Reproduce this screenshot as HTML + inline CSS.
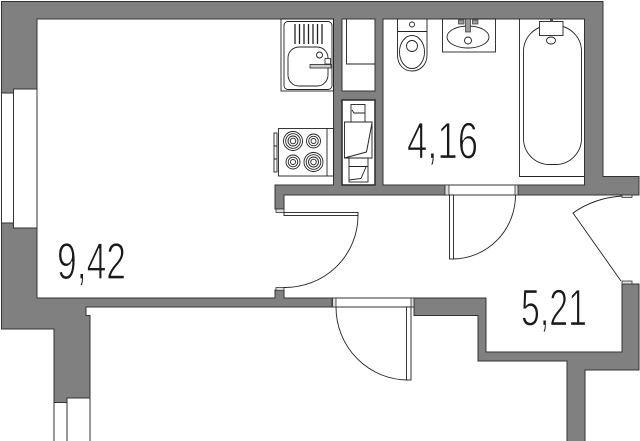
<!DOCTYPE html>
<html>
<head>
<meta charset="utf-8">
<style>
html,body{margin:0;padding:0;background:#fff;}
svg{display:block;}
text{font-family:"Liberation Sans",sans-serif;font-size:52px;fill:#1a1a1a;stroke:#fff;stroke-width:1.2px;}
</style>
</head>
<body>
<svg width="640" height="441" viewBox="0 0 640 441" xmlns="http://www.w3.org/2000/svg">
<rect width="640" height="441" fill="#fff"/>
<!-- walls -->
<path d="M1.5 1.5H603V176.5H639V195H284V209H275V185H333.5V19H37V298H275V290H284V298H486V352H622V284H639V370H585V445H567V361H478V315.5H414V307H86V315.5H90V398H67V402.5H54V329H1.5Z" fill="#808080" stroke="#333" stroke-width="1"/>
<!-- rooms in wall -->
<g fill="#fff" stroke="#333" stroke-width="1">
<rect x="383" y="19" width="201.5" height="166"/>
<rect x="342" y="19" width="33" height="72"/>
<rect x="342" y="100" width="33" height="85" stroke-width="1.6"/>
<!-- windows -->
<rect x="1.5" y="93" width="12" height="130"/>
<rect x="13.5" y="89" width="23.5" height="139"/>
<rect x="54" y="402.5" width="13" height="45"/>
<rect x="67" y="398" width="23" height="50"/>
<!-- door openings -->
<rect x="445" y="185" width="73" height="10"/>
<rect x="332" y="298" width="82" height="9"/>
</g>
<!-- jambs -->
<g fill="#ddd" stroke="#333" stroke-width=".8">
<rect x="445" y="185" width="4" height="10"/>
<rect x="515" y="185" width="3" height="10"/>
<rect x="332.5" y="298" width="3.5" height="9"/>
<rect x="411" y="298" width="3" height="9"/>
<rect x="276" y="209" width="8" height="3.5"/>
<rect x="276" y="287.5" width="8" height="3"/>
<rect x="622" y="195" width="10" height="2.5"/>
<rect x="622" y="281" width="10" height="3"/>
</g>
<!-- doors -->
<g fill="#fff" stroke="#222" stroke-width=".9">
<rect x="284" y="212.5" width="74" height="3"/>
<rect x="449.5" y="195" width="4" height="64"/>
<rect x="406.5" y="307" width="4.5" height="73"/>
</g>
<g fill="none" stroke="#222" stroke-width=".9">
<path d="M358 215.5A73 72 0 0 1 284 287.5"/>
<path d="M515.5 195A63 64 0 0 1 453 259"/>
<path d="M336 307A72 73 0 0 0 408 380"/>
<path d="M622 196Q594 198 573 213L621 281"/>
<!-- sink -->
<rect x="281" y="19" width="52.5" height="72"/>
<rect x="284" y="21.5" width="48" height="68" rx="4"/>
<rect x="288" y="47" width="40" height="39" rx="11"/>
<circle cx="319.5" cy="55" r="3"/>
</g>
<g stroke="#222" stroke-width="1.3">
<path d="M295 24V44M299.5 24V44M304 24V44M308.5 24V44M313 24V44M317.5 24V44M322 24V44"/>
</g>
<rect x="310" y="64.5" width="21" height="3.5" fill="#ccc" stroke="#222" stroke-width=".8"/>
<rect x="325" y="58.5" width="5.5" height="5.5" fill="#fff" stroke="#222" stroke-width=".8"/>
<!-- stove -->
<g fill="none" stroke="#222" stroke-width=".9">
<rect x="278.5" y="128.5" width="55" height="47.5"/>
<path d="M327 128.5V176"/>
<rect x="274" y="133" width="3" height="39"/>
<path d="M274 146H277M274 159H277"/>
<circle cx="293" cy="141" r="9.5"/><circle cx="293" cy="141" r="7.3"/><circle cx="293" cy="141" r="5"/><circle cx="293" cy="141" r="2.8"/>
<circle cx="313.5" cy="141" r="7"/><circle cx="313.5" cy="141" r="4.8"/><circle cx="313.5" cy="141" r="2.5"/>
<circle cx="293" cy="162" r="7"/><circle cx="293" cy="162" r="4.8"/><circle cx="293" cy="162" r="2.5"/>
<circle cx="313.5" cy="162" r="9.5"/><circle cx="313.5" cy="162" r="7.3"/><circle cx="313.5" cy="162" r="5"/><circle cx="313.5" cy="162" r="2.8"/>
<!-- niche upper -->
<path d="M346.5 19V64H375"/>
<!-- niche lower appliance -->
<rect x="351" y="104.5" width="14" height="18.5"/>
<path d="M352 110L354 113H364.5"/>
<rect x="349" y="158" width="19" height="24"/>
<path d="M349 166.5H368M349 180L361 178.5L366 167"/>
</g>
<path d="M344.5 122H372V158H344.5Z" fill="#fff" stroke="#222" stroke-width=".9"/>
<path d="M372 123L366.5 152L344.5 158" fill="none" stroke="#222" stroke-width="1"/>
<!-- toilet -->
<g fill="none" stroke="#222" stroke-width=".9">
<path d="M397.5 19V31.5H427V19"/>
<circle cx="412" cy="24.5" r="2.5"/>
<path d="M397.5 31.5V55C397.5 65 404 71 412 71C420 71 427 65 427 55V31.5"/>
<ellipse cx="412" cy="52" rx="12.5" ry="16.5"/>
<circle cx="412" cy="46" r="5.5"/>
<!-- basin -->
<rect x="442.5" y="19" width="53" height="33"/>
<ellipse cx="468" cy="37" rx="21" ry="11"/>
<circle cx="468" cy="40.5" r="3.5"/>
<!-- bath -->
<path d="M519.5 19V176.5H584.5"/>
<rect x="523.5" y="25.5" width="58" height="139" rx="26"/>
<ellipse cx="551" cy="40.5" rx="4.5" ry="3.5"/>
</g>
<rect x="539.5" y="21.5" width="23.5" height="14" fill="#fff" stroke="#222" stroke-width=".9"/>
<rect x="550" y="19.5" width="3" height="2" fill="#555"/>
<g stroke="#333" stroke-width=".7">
<rect x="465.5" y="19" width="5" height="13" fill="#999"/>
<rect x="458.5" y="20" width="5.5" height="4" fill="#999"/>
<rect x="472.5" y="20" width="5.5" height="4" fill="#999"/>
</g>
<!-- labels -->
<text x="57" y="279" textLength="69" lengthAdjust="spacingAndGlyphs">9,42</text>
<text x="407" y="158.5" textLength="71" lengthAdjust="spacingAndGlyphs">4,16</text>
<text x="521" y="325.5" textLength="66" lengthAdjust="spacingAndGlyphs">5,21</text>
</svg>
</body>
</html>
